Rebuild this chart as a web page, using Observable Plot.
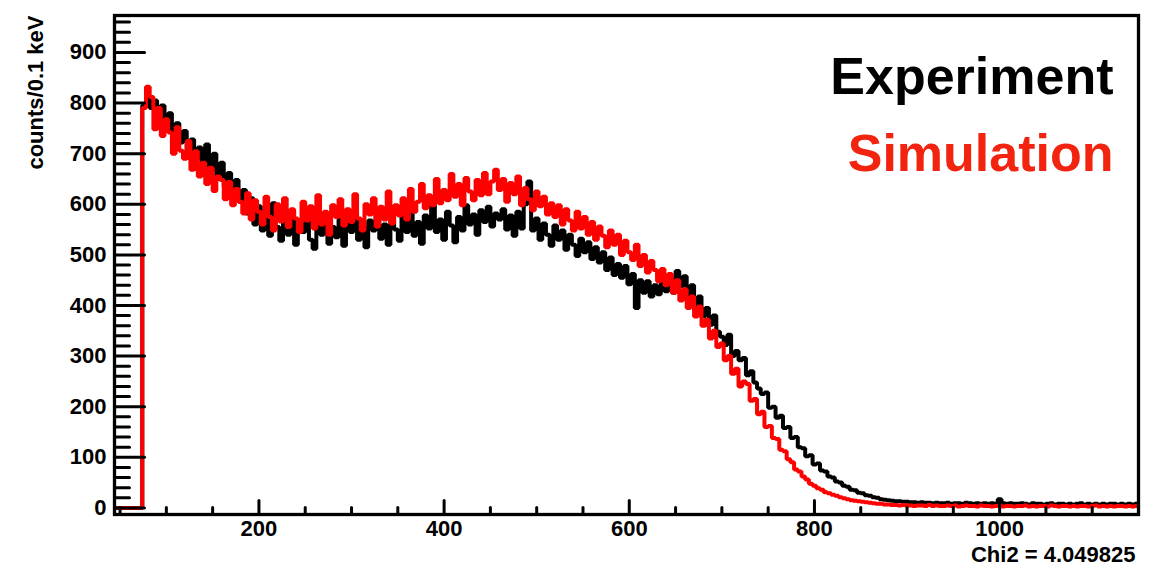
<!DOCTYPE html>
<html>
<head>
<meta charset="utf-8">
<script src="https://cdn.jsdelivr.net/npm/d3@7"></script>
<script src="https://cdn.jsdelivr.net/npm/@observablehq/plot@0.6"></script>
<style>
  html, body { margin: 0; padding: 0; background: #ffffff; }
  #chart { width: 1162px; height: 570px; }
</style>
</head>
<body>
<div id="chart"></div>
<script>
// ---- Data ----
const binStart = 42;   // left edge of first bin
const binWidth = 4;    // bin width (x units)

const experiment = [
  0,0,0,0,0,0,0,0,
  795,815,790,805,768,795,752,780,738,760,
  722,745,700,728,690,712,675,718,665,700,
  650,682,635,662,620,648,605,628,582,612,
  560,596,548,580,538,602,555,528,572,540,
  585,520,562,545,575,530,512,565,540,578,
  522,555,535,570,518,560,545,580,530,556,
  515,568,548,590,532,560,520,575,550,528,
  582,545,595,538,565,522,578,552,600,545,
  570,530,585,558,525,575,548,598,560,580,
  540,588,565,595,556,582,570,590,550,578,
  538,585,552,600,645,548,572,530,562,540,
  518,558,530,548,510,540,520,498,532,505,
  525,492,515,485,505,470,495,460,482,455,
  478,442,462,395,450,425,448,418,440,422,
  446,428,
  455,425,468,438,458,410,440,392,418,378,
  395,362,380,348,338,322,342,300,310,292,
  296,262,270,248,236,225,228,198,200,178,
  182,158,160,138,140,120,118,102,104,86,
  88,74,72,62,60,52,50,44,42,36,
  35,30,29,25,24,21,20,17,
  16,15,14,13,
  13,12,12,11,11,10,11,10,10,9,
  10,9,9,10,8,9,9,8,10,9,
  8,9,8,9,8,9,8,17,9,8,
  9,8,8,9,8,7,9,8,8,7,
  8,9,7,8,8,7,8,7,8,9,
  7,8,7,8,7,8,7,8,8,7,
  8,7,8,7,8
];

const simulation = [
  0,0,0,0,0,0,0,0,
  790,832,812,748,790,735,768,742,700,752,
  706,690,725,668,705,655,682,640,672,626,
  655,648,610,644,598,630,605,582,622,570,
  608,585,560,615,575,548,600,566,612,555,
  590,572,545,605,568,596,552,618,560,585,
  540,598,575,610,558,590,565,620,572,548,
  600,580,612,556,595,570,625,562,598,578,
  612,570,630,585,605,640,592,618,598,650,
  602,628,608,660,615,640,598,652,625,608,
  648,618,662,620,645,668,628,650,605,642,
  620,655,598,632,610,588,625,596,615,580,
  602,575,598,560,590,568,548,585,552,575,
  540,565,530,556,538,515,548,520,540,500,
  528,505,490,520,478,500,465,488,470,448,
  472,440,462,425,450,410,432,395,418,378,
  398,360,372,335,350,318,325,292,300,265,
  275,240,250,245,212,215,185,190,160,162,
  138,136,115,112,96,90,76,72,62,56,
  48,44,39,36,31,29,26,24,21,19,
  17,15,14,13,12,11,10,9,8,8,
  7,7,6,6,
  5,6,5,5,4,5,5,4,6,4,
  5,4,4,5,4,5,3,4,5,4,
  4,3,5,4,4,3,4,5,3,4,
  4,3,4,4,5,3,4,3,4,4,
  3,5,4,3,4,4,3,4,3,4,
  4,3,4,5,3,4,3,4,3,4,
  4,3,4,3,4
];

const xMajorTicks = [200, 400, 600, 800, 1000];
const xMinorTicks = [50, 100, 150, 250, 300, 350, 450, 500, 550, 650, 700, 750, 850, 900, 950, 1050, 1100, 1150];
const yMajorTicks = [0, 100, 200, 300, 400, 500, 600, 700, 800, 900];
const yMinorTicks = [20, 40, 60, 80, 120, 140, 160, 180, 220, 240, 260, 280, 320, 340, 360, 380,
  420, 440, 460, 480, 520, 540, 560, 580, 620, 640, 660, 680, 720, 740, 760, 780,
  820, 840, 860, 880, 920, 940, 960];

const xDomain = [44, 1150];
const yDomain = [-13, 973];

const yTitle = "counts/0.1 keV";
const seriesNames = ["Experiment", "Simulation"];
const seriesColors = ["#000000", "#ff0000"];
const legendColors = ["#000000", "#f2230f"];
const chi2Text = "Chi2 = 4.049825";

// ---- Build step tables ----
function steps(values) {
  const rows = values.map((v, i) => ({x: binStart + i * binWidth, y: v}));
  rows.push({x: binStart + values.length * binWidth, y: values[values.length - 1]});
  return rows;
}
const expSteps = steps(experiment);
const simSteps = steps(simulation);

const tickShape = { draw(context, l) { context.moveTo(0, 0); context.lineTo(0, -l); } };
const font = "'Liberation Sans', Arial, Helvetica, sans-serif";

const chart = Plot.plot({
  width: 1162,
  height: 570,
  marginLeft: 114,
  marginRight: 24,
  marginTop: 15,
  marginBottom: 56,
  x: {domain: xDomain},
  y: {domain: yDomain},
  style: {fontFamily: font, background: "#ffffff", color: "#000000"},
  marks: [
    Plot.lineY(expSteps, {x: "x", y: "y", curve: "step-after", stroke: seriesColors[0], strokeWidth: 4, strokeLinejoin: "miter", strokeLinecap: "butt", clip: true}),
    Plot.lineY(simSteps, {x: "x", y: "y", curve: "step-after", stroke: seriesColors[1], strokeWidth: 4, strokeLinejoin: "miter", strokeLinecap: "butt", clip: true}),
    Plot.frame({stroke: "#000000", strokeWidth: 3.3}),
    Plot.vector(yMajorTicks, {y: d => d, frameAnchor: "left", length: 30, rotate: 90, anchor: "start", shape: tickShape, stroke: "#000000", strokeWidth: 3}),
    Plot.vector(yMinorTicks, {y: d => d, frameAnchor: "left", length: 15, rotate: 90, anchor: "start", shape: tickShape, stroke: "#000000", strokeWidth: 3}),
    Plot.vector(xMajorTicks, {x: d => d, frameAnchor: "bottom", length: 14, rotate: 0, anchor: "start", shape: tickShape, stroke: "#000000", strokeWidth: 3}),
    Plot.vector(xMinorTicks, {x: d => d, frameAnchor: "bottom", length: 7, rotate: 0, anchor: "start", shape: tickShape, stroke: "#000000", strokeWidth: 3}),
    Plot.axisY({ticks: yMajorTicks, tickSize: 0, tickPadding: 8, tickFormat: d => String(d), fontSize: 22, fontWeight: "bold", label: null}),
    Plot.axisX({ticks: xMajorTicks, tickSize: 0, tickPadding: 6, tickFormat: d => String(d), fontSize: 22, fontWeight: "bold", label: null}),
    Plot.text([yTitle], {text: d => d, frameAnchor: "top-left", rotate: -90, textAnchor: "end", lineAnchor: "middle", dx: -79, dy: 0, fontSize: 22, fontWeight: "bold", fill: "#000000"}),
    Plot.text([seriesNames[0]], {text: d => d, frameAnchor: "top-right", textAnchor: "end", lineAnchor: "bottom", dx: -25, dy: 78, fontSize: 52, fontWeight: "bold", fill: legendColors[0]}),
    Plot.text([seriesNames[1]], {text: d => d, frameAnchor: "top-right", textAnchor: "end", lineAnchor: "bottom", dx: -25, dy: 155, fontSize: 52, fontWeight: "bold", fill: legendColors[1]}),
    Plot.text([chi2Text], {text: d => d, frameAnchor: "bottom-right", textAnchor: "end", lineAnchor: "bottom", dx: -3, dy: 47, fontSize: 22, fontWeight: "bold", fill: "#000000"})
  ]
});
document.getElementById("chart").appendChild(chart);
</script>
</body>
</html>
